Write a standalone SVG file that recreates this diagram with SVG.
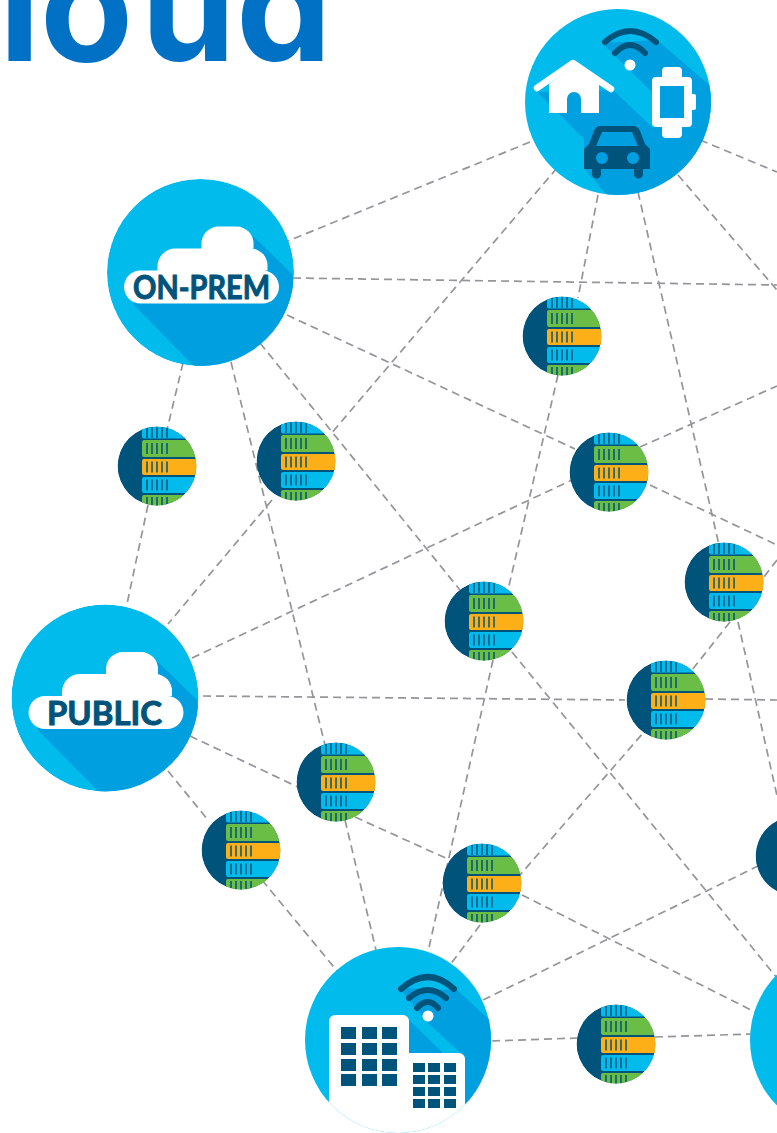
<svg xmlns="http://www.w3.org/2000/svg" xmlns:xlink="http://www.w3.org/1999/xlink" width="777" height="1133" viewBox="0 0 777 1133">
<style>
.conn{fill:none;stroke:#939598;stroke-width:1.7;stroke-dasharray:8 5}
.lite{fill:#00BBEB}.shade{fill:#009FE0}.ink{fill:#00537A}.white{fill:#fff}
.arc{fill:none;stroke:#00537A;stroke-width:6;stroke-linecap:round}
.tick{stroke:#00537A;stroke-width:1.5}
.lbl{font-family:"Lato","Noto Sans",sans-serif;font-weight:700;font-size:33px;fill:#00537A;stroke:#00537A;stroke-width:1;stroke-linejoin:round}
.title{font-family:"Inter","Liberation Sans",sans-serif;font-weight:700;font-size:152px;fill:#0071C5}
</style>
<defs>
<clipPath id="sc"><circle cx="0" cy="0" r="39.500"/></clipPath>
<clipPath id="bc"><circle cx="0" cy="0" r="93.500"/></clipPath>
<g id="ticks"><path class="tick" d="M-10 0v11M-5 0v11M0 0v11M5 0v11M10 0v11"/></g>
<g id="server" clip-path="url(#sc)">
<circle r="39.500" class="ink"/>
<rect x="-15" y="-39.500" width="60" height="12" rx="2" fill="#00BBEB"/>
<rect x="-15" y="-26" width="60" height="17" rx="2" fill="#6ABD45"/>
<rect x="-15" y="-7" width="60" height="16" rx="2" fill="#FCAF17"/>
<rect x="-15" y="11" width="60" height="16" rx="2" fill="#00BBEB"/>
<rect x="-15" y="29" width="60" height="14" rx="2" fill="#6ABD45"/>
<use href="#ticks" y="-39"/><use href="#ticks" y="-23"/><use href="#ticks" y="-4.500"/><use href="#ticks" y="13.500"/><use href="#ticks" y="31"/>
</g>
<g id="cloudbase" clip-path="url(#bc)">
<circle r="93.500" class="lite"/>
<path class="shade" d="M-68 31L53-36L92 2L100 100L-5 95Z"/>
<path class="white" d="M-60 31A16.500 16.500 0 0 1 -60 -2H-43V-6A18 18 0 0 1 -25 -24H1V-28A17 17 0 0 1 18 -46H36A17 17 0 0 1 53 -28V-24H50A17 17 0 0 1 67 -6V-2H62A16.500 16.500 0 0 1 62 31Z"/>
</g>
</defs>

<text class="title" x="-1 40 141 236" y="61" id="title">loud</text>

<g id="connectors">
<path class="conn" d="M530 142L288 241"/>
<path class="conn" d="M293 278L777 285"/>
<path class="conn" d="M700 140L777 172"/>
<path class="conn" d="M557 168L330 435"/>
<path class="conn" d="M272 500L168 624"/>
<path class="conn" d="M598 195L578 298"/>
<path class="conn" d="M558 375L508 590"/>
<path class="conn" d="M493 660L428 952"/>
<path class="conn" d="M638 192L719 545"/>
<path class="conn" d="M738 622L778 800"/>
<path class="conn" d="M678 175L777 290"/>
<path class="conn" d="M287 315L575 449"/>
<path class="conn" d="M650 485L777 545"/>
<path class="conn" d="M640 447L777 386"/>
<path class="conn" d="M192 658L572 480"/>
<path class="conn" d="M183 363L167 430"/>
<path class="conn" d="M148 505L127 604"/>
<path class="conn" d="M231 362L325 745"/>
<path class="conn" d="M345 820L376 950"/>
<path class="conn" d="M260 343L460 590"/>
<path class="conn" d="M512 652L777 978"/>
<path class="conn" d="M203 696L625 700"/>
<path class="conn" d="M705 699L777 700"/>
<path class="conn" d="M190 736L300 788"/>
<path class="conn" d="M355 817L450 860"/>
<path class="conn" d="M522 895L755 1012"/>
<path class="conn" d="M168 771L208 820"/>
<path class="conn" d="M262 880L338 972"/>
<path class="conn" d="M650 725L520 875"/>
<path class="conn" d="M480 925L450 965"/>
<path class="conn" d="M730 622L692 670"/>
<path class="conn" d="M777 560L750 595"/>
<path class="conn" d="M483 1000L760 865"/>
<path class="conn" d="M492 1041L578 1038"/>
<path class="conn" d="M655 1037L752 1034"/>
</g>

<g id="node-devices">
<clipPath id="tc"><circle cx="618" cy="102" r="93"/></clipPath>
<circle cx="618" cy="102" r="93" class="lite"/>
<path clip-path="url(#tc)" class="shade" d="M537 92L613 90L653 128L654 94L602 43L657 40L715 90V200H611L584 168V139Z"/>
<path class="white" d="M549 113V84L573 66L599 84V113H581V99A7 7 0 0 0 567 99V113Z"/>
<path d="M537 88L573 63L611 89" fill="none" stroke="#fff" stroke-width="6.500" stroke-linecap="round" stroke-linejoin="round"/>
<path class="arc" d="M605 42Q630 20 656 42"/>
<path class="arc" d="M615 53Q630 37 645 53"/>
<circle cx="630" cy="65" r="5.500" class="white"/>
<rect x="662" y="67" width="20" height="71" rx="4" class="white"/>
<rect x="652" y="77" width="40" height="50" rx="4" class="white"/>
<rect x="690" y="94" width="6" height="16" rx="2" class="white"/>
<rect x="660" y="86" width="24" height="32" class="shade"/>
<path class="ink" d="M600 126H633Q638 126 640 131L645 144L650 149V169H643V174A4.500 4.500 0 0 1 634 174V169H601V174A4.500 4.500 0 0 1 592 174V169H584V149L589 144L594 131Q596 126 600 126Z"/>
<path class="shade" d="M602 132H632L638 146H596Z"/>
<circle cx="602" cy="158" r="6" class="shade"/><circle cx="633" cy="158" r="6" class="shade"/>
</g>

<g id="node-onprem" transform="translate(200.500 272.500)">
<use href="#cloudbase"/>
<text class="lbl" x="-67.500" y="26.500" textLength="137" lengthAdjust="spacingAndGlyphs">ON-PREM</text>
</g>
<g id="node-public" transform="translate(105 698)">
<use href="#cloudbase"/>
<text class="lbl" x="-58" y="27" textLength="115" lengthAdjust="spacingAndGlyphs">PUBLIC</text>
</g>

<g id="node-building">
<clipPath id="bldc"><circle cx="398" cy="1040" r="93"/></clipPath>
<circle cx="398" cy="1040" r="93" class="lite"/>
<g clip-path="url(#bldc)">
<path class="shade" d="M399 988L457 990L495 1025V1133H465V1057L427 1022Z"/>
<path class="shade" d="M409 1020L443 1053H409Z"/>
<path class="white" d="M329 1140V1021A6 6 0 0 1 335 1015H403A6 6 0 0 1 409 1021V1053H459A6 6 0 0 1 465 1059V1140Z"/>
</g>
<path class="arc" d="M401 989Q428 965 454 989"/>
<path class="arc" d="M409 998Q428 982 446 998"/>
<path class="arc" d="M417 1008Q428 996 438 1008"/>
<circle cx="428" cy="1016" r="5.500" class="white"/>
<path class="ink" d="M341 1027h15v12h-15zM362 1027h15v12h-15zM382 1027h15v12h-15zM341 1043h15v12h-15zM362 1043h15v12h-15zM382 1043h15v12h-15zM341 1059h15v12h-15zM362 1059h15v12h-15zM382 1059h15v12h-15zM341 1074h15v12h-15zM362 1074h15v12h-15zM382 1074h15v12h-15z"/>
<path class="ink" d="M413 1063h12v9h-12zM428 1063h12v9h-12zM444 1063h12v9h-12zM413 1075h12v9h-12zM428 1075h12v9h-12zM444 1075h12v9h-12zM413 1087h12v9h-12zM428 1087h12v9h-12zM444 1087h12v9h-12zM413 1099h12v9h-12zM428 1099h12v9h-12zM444 1099h12v9h-12z"/>
</g>
<g id="node-right"><circle cx="843" cy="1040" r="93" class="lite"/></g>

<g id="server-1"><use href="#server" x="157" y="466"/></g>
<g id="server-2"><use href="#server" x="296" y="461"/></g>
<g id="server-3"><use href="#server" x="562" y="336"/></g>
<g id="server-4"><use href="#server" x="609" y="472"/></g>
<g id="server-5"><use href="#server" x="484" y="621"/></g>
<g id="server-6"><use href="#server" x="724" y="582"/></g>
<g id="server-7"><use href="#server" x="666" y="700"/></g>
<g id="server-8"><use href="#server" x="336" y="782"/></g>
<g id="server-9"><use href="#server" x="241" y="850"/></g>
<g id="server-10"><use href="#server" x="482" y="883"/></g>
<g id="server-11"><use href="#server" x="616" y="1044"/></g>
<g id="server-12"><use href="#server" x="795" y="856"/></g>
</svg>
